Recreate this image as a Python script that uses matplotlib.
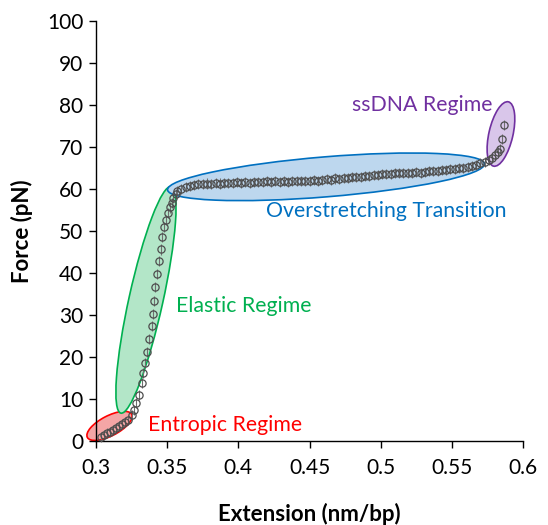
import matplotlib
matplotlib.use('Agg')
import matplotlib.pyplot as plt
import matplotlib.transforms as transforms
from matplotlib.patches import Ellipse

plt.rcParams['font.family'] = ['Lato', 'DejaVu Sans']

# force-extension curve of dsDNA (nm/bp, pN)
entropic_ext = [0.3035, 0.3056, 0.3077, 0.3098, 0.3119, 0.3140, 0.3162, 0.3183, 0.3204,
                0.3226, 0.3250, 0.3268]
entropic_force = [1.0, 1.4, 1.8, 2.2, 2.6, 3.0, 3.5, 4.0, 4.5,
                  5.0, 6.2, 7.4]

elastic_ext = [0.3281, 0.3304, 0.3321, 0.3332, 0.3344, 0.3360, 0.3375, 0.3391, 0.3398,
               0.3408, 0.3417, 0.3431, 0.3445, 0.3455, 0.3464, 0.3478, 0.3492, 0.3508,
               0.3520, 0.3532, 0.3543, 0.3562]
elastic_force = [9.0, 11.0, 13.9, 16.3, 18.6, 21.3, 24.2, 27.4, 30.2,
                 33.4, 36.6, 39.8, 42.9, 45.6, 48.6, 50.9, 52.6, 54.2,
                 55.6, 56.7, 57.8, 58.8]

plateau_ext = [0.357, 0.360, 0.363, 0.366, 0.369, 0.372, 0.375, 0.378, 0.381, 0.384,
               0.387, 0.390, 0.393, 0.396, 0.399, 0.402, 0.405, 0.408, 0.411, 0.414,
               0.417, 0.420, 0.423, 0.426, 0.429, 0.432, 0.435, 0.438, 0.441, 0.444,
               0.447, 0.450, 0.453, 0.456, 0.459, 0.462, 0.465, 0.468, 0.471, 0.474,
               0.477, 0.480, 0.483, 0.486, 0.489, 0.492, 0.495, 0.498, 0.501, 0.504,
               0.507, 0.510, 0.513, 0.516, 0.519, 0.522, 0.525, 0.528, 0.531, 0.534,
               0.537, 0.540, 0.543, 0.546, 0.549, 0.552, 0.555, 0.558, 0.561, 0.564,
               0.567, 0.570, 0.573]
plateau_force = [59.6, 60.1, 60.5, 60.8, 61.0, 61.2, 61.1, 61.3, 61.2, 61.4,
                 61.3, 61.5, 61.4, 61.5, 61.6, 61.4, 61.6, 61.5, 61.7, 61.6,
                 61.7, 61.8, 61.6, 61.8, 61.7, 61.9, 61.7, 61.8, 61.9, 61.8,
                 62.0, 61.9, 62.1, 62.0, 62.2, 62.3, 62.2, 62.5, 62.4, 62.6,
                 62.7, 62.8, 62.9, 62.9, 63.1, 63.2, 63.3, 63.3, 63.5, 63.6,
                 63.5, 63.7, 63.8, 63.7, 63.9, 63.9, 64.0, 63.9, 64.1, 64.2,
                 64.3, 64.3, 64.5, 64.6, 64.7, 64.8, 64.9, 65.1, 65.3, 65.5,
                 65.8, 66.1, 66.5]

ssdna_ext = [0.5760, 0.5785, 0.5805, 0.5825, 0.5840, 0.5852, 0.5868]
ssdna_force = [66.9, 67.4, 68.0, 68.8, 69.6, 71.8, 75.2]

force_err = 1.2

ext = entropic_ext + elastic_ext + plateau_ext + ssdna_ext
force = entropic_force + elastic_force + plateau_force + ssdna_force

fig = plt.figure(figsize=(5.48, 5.25), dpi=100)
ax = fig.add_axes([0.1752, 0.16, 0.7792, 0.80])


def regime_ellipse(cx, cy, length, width, angle, face, edge):
    # size given in inches so the shape doesn't depend on the data aspect
    trans = fig.dpi_scale_trans + transforms.ScaledTranslation(cx, cy, ax.transData)
    e = Ellipse((0, 0), length, width, angle=angle, transform=trans,
                facecolor=face, edgecolor=edge, linewidth=1.2, zorder=1,
                clip_on=False)
    ax.add_patch(e)


ax.set_xlim(0.3, 0.6)
ax.set_ylim(0, 100)

regime_ellipse(0.3095, 3.6, 0.50, 0.20, 27.5, '#F4A6A6', '#FF0000')
regime_ellipse(0.3351, 33.6, 2.32, 0.34, 77.5, '#B3E6C8', '#00B050')
regime_ellipse(0.4616, 62.9, 3.18, 0.40, 4.7, '#BDD7EE', '#0070C0')
regime_ellipse(0.5845, 73.1, 0.66, 0.24, 77, '#D9C6EA', '#7030A0')

ax.errorbar(ext, force, yerr=force_err, fmt='o', markersize=5.2,
            markerfacecolor='none', markeredgecolor='#4D4D4D', markeredgewidth=0.9,
            ecolor='#6F6F6F', elinewidth=0.8, capsize=0, zorder=3, clip_on=False)

ax.text(0.480, 80.0, 'ssDNA Regime', color='#7030A0', fontsize=15.3, va='center')
ax.text(0.4195, 54.8, 'Overstretching Transition', color='#0070C0', fontsize=15.3, va='center')
ax.text(0.3562, 32.1, 'Elastic Regime', color='#00B050', fontsize=15.3, va='center')
ax.text(0.3366, 3.8, 'Entropic Regime', color='#FF0000', fontsize=15.3, va='center')

ax.set_xticks([0.3, 0.35, 0.4, 0.45, 0.5, 0.55, 0.6])
ax.set_xticklabels(['0.3', '0.35', '0.4', '0.45', '0.5', '0.55', '0.6'])
ax.set_yticks(range(0, 101, 10))
ax.tick_params(direction='out', length=5, width=1, labelsize=15, color='black')
ax.tick_params(axis='x', pad=7)
ax.tick_params(axis='y', pad=4)

ax.spines['top'].set_visible(False)
ax.spines['right'].set_visible(False)
ax.spines['left'].set_linewidth(1)
ax.spines['bottom'].set_linewidth(1)

ax.set_xlabel('Extension (nm/bp)', fontsize=16, weight='bold', labelpad=18)
ax.set_ylabel('Force (pN)', fontsize=16, weight='bold', labelpad=10)

fig.savefig('out.png', dpi=100)
